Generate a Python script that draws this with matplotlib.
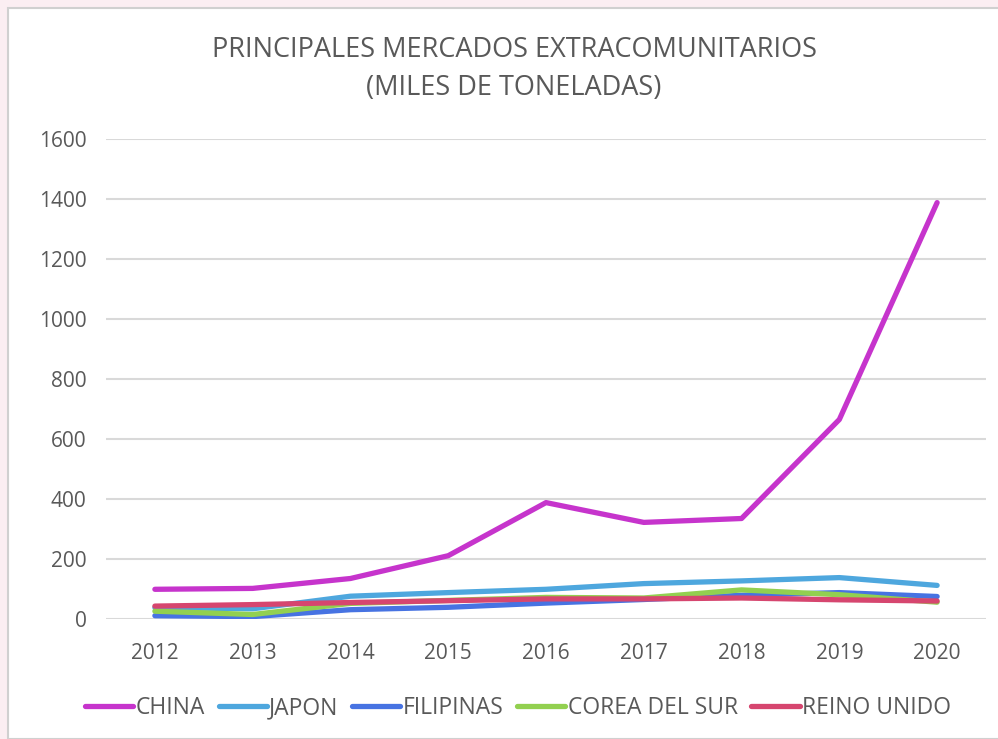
import matplotlib.pyplot as plt
from matplotlib.patches import Rectangle

years = [2012, 2013, 2014, 2015, 2016, 2017, 2018, 2019, 2020]
china = [99, 102, 135, 211, 388, 322, 335, 665, 1388]
japon = [38, 34, 76, 88, 99, 118, 127, 138, 112]
filipinas = [11, 8, 31, 39, 53, 65, 79, 88, 75]
corea = [26, 15, 52, 62, 72, 70, 97, 81, 56]
reino_unido = [43, 48, 55, 61, 67, 67, 70, 64, 60]

series = [("CHINA", china, "#C634CC"),
          ("JAPON", japon, "#4EA7DE"),
          ("FILIPINAS", filipinas, "#4773E2"),
          ("COREA DEL SUR", corea, "#92D050"),
          ("REINO UNIDO", reino_unido, "#D6466F")]

plt.rcParams['font.family'] = ['Open Sans', 'DejaVu Sans']

fig = plt.figure(figsize=(9.98, 7.39), dpi=100, facecolor="#fbeef2")
# white chart card behind everything
fig.patches.append(Rectangle((8 / 998, 0), 1, 1 - 8 / 739, transform=fig.transFigure,
                             facecolor="white", edgecolor="#d0d0d0", lw=1.5, zorder=-10))

ax = fig.add_axes([106 / 998, 120 / 739, 880 / 998, 480 / 739])
ax.patch.set_alpha(0)
for name, vals, col in series:
    ax.plot(years, vals, color=col, lw=3.8, label=name, solid_capstyle="round")

ax.set_xlim(2011.5, 2020.5)
ax.set_ylim(0, 1600)
ax.set_yticks(range(0, 1601, 200))
ax.set_xticks(years)
ax.grid(axis="y", color="#d9d9d9", lw=1.5)
ax.set_axisbelow(True)
for s in ax.spines.values():
    s.set_visible(False)
ax.tick_params(length=0, labelsize=15, labelcolor="#595959")
ax.tick_params(axis="x", pad=17)
ax.tick_params(axis="y", pad=14)

fig.text(514 / 998, 1 - 50 / 739, "PRINCIPALES MERCADOS EXTRACOMUNITARIOS", ha="center",
         va="center", fontsize=19.5, color="#595959")
fig.text(514 / 998, 1 - 88 / 739, "(MILES DE TONELADAS)", ha="center", va="center",
         fontsize=19.5, color="#595959")

fig.legend(loc="center", bbox_to_anchor=(518 / 998, 1 - 708 / 739), ncol=5, frameon=False,
           fontsize=16.5, labelcolor="#595959", handlelength=2.1, handletextpad=0.1,
           columnspacing=0.6)

fig.savefig("out.png", dpi=100, facecolor=fig.get_facecolor())
